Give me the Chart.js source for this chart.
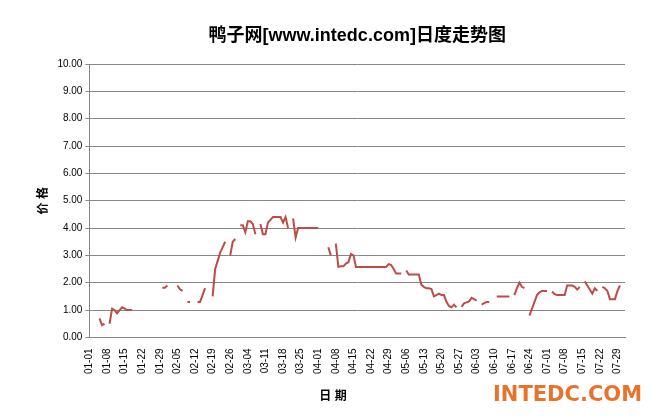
<!DOCTYPE html>
<html><head><meta charset="utf-8">
<script src="https://cdn.jsdelivr.net/npm/chart.js@4"></script>
<style>body{margin:0;background:#fff}#w{position:relative;width:659px;height:417px}
#logo{position:absolute;left:493px;top:382px;font:bold 21px "DejaVu Sans",Arial;color:#e8742c}</style>
</head><body><div id="w"><canvas id="c" width="659" height="417"></canvas><div id="logo">INTEDC.COM</div></div>
<script>
const startDate = [2024, 0, 1];
const dayCount = 214;
const labelStep = 7;
const chartTitle = '鸭子网[www.intedc.com]日度走势图';
const xTitle = '日 期';
// values by day index (0 = 01-01); missing days are null
const pricePoints = [
[4,0.7],[5,0.45],[6,0.5],[8,0.5],[9,1.05],[10,1.0],[11,0.88],[12,1.0],[13,1.1],[14,1.05],[15,1.0],[16,1.0],[17,1.0],
[29,1.82],[30,1.82],[31,1.9],
[35,1.9],[36,1.76],[37,1.7],
[39,1.3],[40,1.3],[43,1.3],[44,1.3],[45,1.55],[46,1.8],
[49,1.5],[50,2.5],[51,2.8],[52,3.1],[53,3.3],[54,3.5],
[56,3.0],[57,3.5],[58,3.6],
[60,4.1],[61,4.1],[62,3.85],[63,4.25],[64,4.25],[65,4.15],[66,3.77],
[68,4.15],[69,3.77],[70,3.77],[71,4.2],[72,4.3],[73,4.4],[74,4.4],[75,4.4],[76,4.4],[77,4.2],[78,4.4],[79,4.0],
[81,4.35],[82,3.65],[83,4.0],[84,4.0],[85,4.0],[86,4.0],[87,4.0],[88,4.0],[89,4.0],[90,4.0],[91,4.0],
[95,3.3],[96,3.0],
[98,3.43],[99,2.58],[100,2.6],[101,2.6],[102,2.7],[103,2.75],[104,3.05],[105,3.0],[106,2.58],[107,2.58],[108,2.58],[109,2.58],[110,2.58],[111,2.58],[112,2.58],[113,2.58],[114,2.58],[115,2.58],[116,2.58],[117,2.58],[118,2.58],[119,2.68],[120,2.65],[121,2.5],[122,2.34],[123,2.34],[124,2.34],
[126,2.45],[127,2.3],[128,2.3],[129,2.3],[130,2.3],[131,2.3],[132,1.93],[133,1.85],[134,1.8],[135,1.8],[136,1.77],[137,1.5],[138,1.55],[139,1.6],[140,1.55],[141,1.55],[142,1.3],[143,1.15],[144,1.1],[145,1.2],[146,1.1],
[148,1.12],[149,1.25],[150,1.28],[151,1.32],[152,1.45],[153,1.4],[154,1.35],
[156,1.2],[157,1.25],[158,1.3],[159,1.3],
[162,1.5],[163,1.5],[164,1.5],[165,1.5],[166,1.5],[167,1.5],
[169,1.55],[170,1.8],[171,2.0],[172,1.85],[173,1.8],
[175,0.8],[176,1.05],[177,1.3],[178,1.55],[179,1.65],[180,1.7],[181,1.7],[182,1.7],
[184,1.68],[185,1.58],[186,1.55],[187,1.55],[188,1.55],[189,1.55],[190,1.9],[191,1.9],[192,1.9],[193,1.85],[194,1.75],[195,1.85],
[197,2.05],[198,1.9],[199,1.75],[200,1.6],[201,1.8],[202,1.7],
[204,1.85],[205,1.8],[206,1.7],[207,1.4],[208,1.4],[209,1.4],
[210,1.7],[211,1.9]
];
const yTicks = ['0.00','1.00','2.00','3.00','4.00','5.00','6.00','7.00','8.00','9.00','10.00'];

const labels = [];
for (let i = 0; i < dayCount; i++) {
  const d = new Date(startDate[0], startDate[1], startDate[2] + i);
  labels.push(String(d.getMonth()+1).padStart(2,'0') + '-' + String(d.getDate()).padStart(2,'0'));
}
const values = new Array(dayCount).fill(null);
pricePoints.forEach(p => values[p[0]] = p[1]);

const F = '"Liberation Sans", "Noto Sans CJK SC", sans-serif';
const texts = {
  id: 'texts',
  afterDraw(chart) {
    const ctx = chart.ctx, a = chart.chartArea;
    ctx.save();
    ctx.fillStyle = '#000'; ctx.textAlign = 'center'; ctx.textBaseline = 'middle';
    ctx.font = 'bold 18px ' + F;
    ctx.fillText(chartTitle, (a.left + a.right) / 2, 36);
    ctx.font = 'bold 12px ' + F;
    ctx.fillText(xTitle, 333, 397);
    ctx.restore();
  }
};
new Chart(document.getElementById('c'), {
  type: 'line',
  data: { labels, datasets: [{ data: values, borderColor: '#be4b48', borderWidth: 2, pointRadius: 0, spanGaps: false, tension: 0 }] },
  options: {
    responsive: false, animation: false,
    layout: { padding: { left: 32, right: 34, top: 64, bottom: 40 } },
    plugins: { legend: { display: false }, tooltip: { enabled: false }, title: { display: false } },
    scales: {
      x: {
        offset: false,
        grid: { display: false, drawTicks: true },
        border: { color: '#868686' },
        ticks: { autoSkip: false, maxRotation: 90, minRotation: 90, color: '#000', font: { family: F, size: 10 },
          callback: (v, i) => i % labelStep === 0 ? labels[i] : '' }
      },
      y: {
        min: 0, max: 10,
        afterBuildTicks: s => { s.ticks = yTicks.map(t => ({ value: parseFloat(t) })); },
        grid: { color: '#868686', drawTicks: true, tickLength: 4 },
        border: { color: '#868686' },
        ticks: { color: '#000', font: { family: F, size: 10 }, callback: (v, i) => yTicks[i] },
        title: { display: true, text: '价 格', color: '#000', font: { family: F, size: 12, weight: 'bold' } }
      }
    }
  },
  plugins: [texts]
});
</script></body></html>
